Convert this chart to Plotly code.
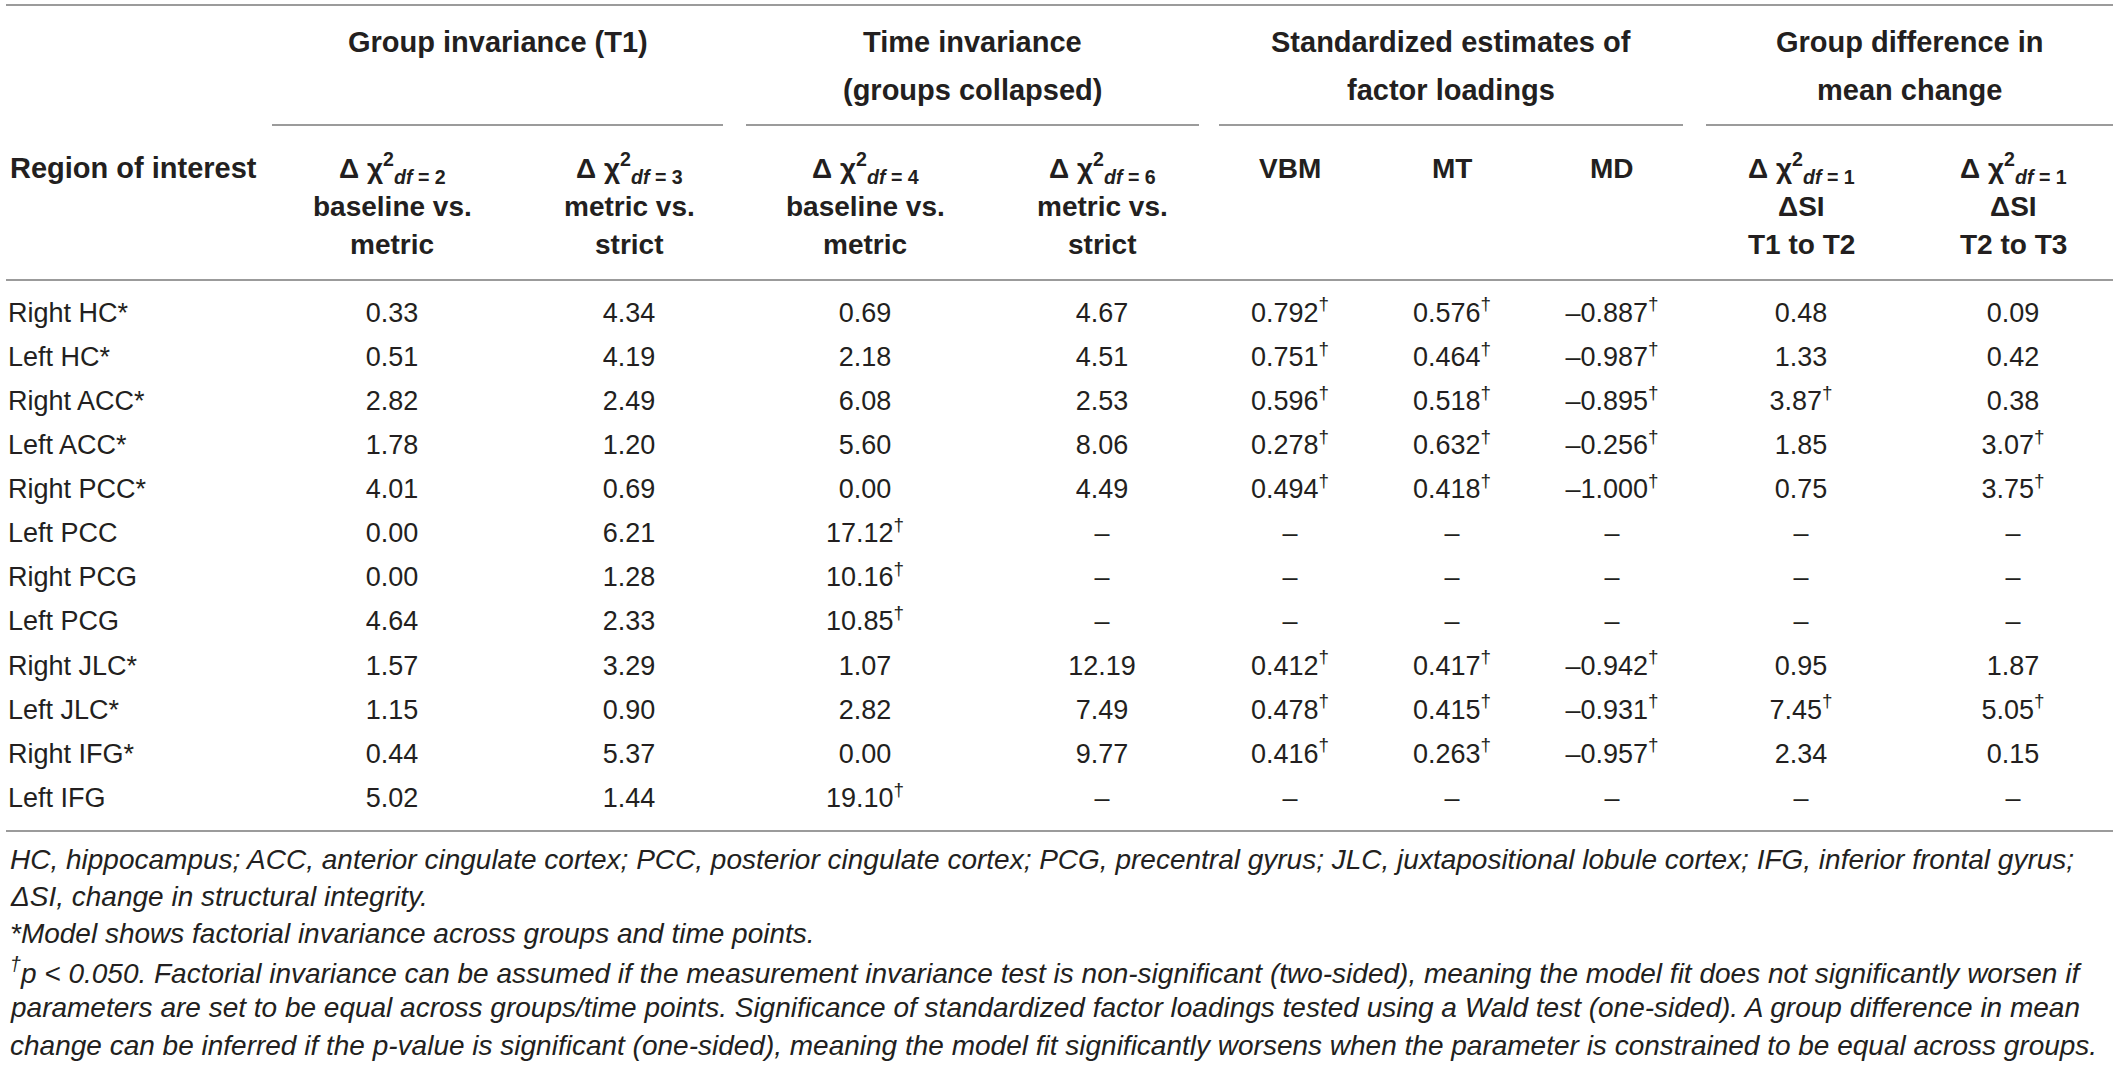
import plotly.graph_objects as go

# ---- table data ----
regions = ["Right HC*", "Left HC*", "Right ACC*", "Left ACC*", "Right PCC*", "Left PCC",
           "Right PCG", "Left PCG", "Right JLC*", "Left JLC*", "Right IFG*", "Left IFG"]

group_base_vs_metric = ["0.33", "0.51", "2.82", "1.78", "4.01", "0.00", "0.00", "4.64", "1.57", "1.15", "0.44", "5.02"]
group_metric_vs_strict = ["4.34", "4.19", "2.49", "1.20", "0.69", "6.21", "1.28", "2.33", "3.29", "0.90", "5.37", "1.44"]
time_base_vs_metric = ["0.69", "2.18", "6.08", "5.60", "0.00", "17.12†", "10.16†", "10.85†", "1.07", "2.82", "0.00", "19.10†"]
time_metric_vs_strict = ["4.67", "4.51", "2.53", "8.06", "4.49", "–", "–", "–", "12.19", "7.49", "9.77", "–"]
loading_vbm = ["0.792†", "0.751†", "0.596†", "0.278†", "0.494†", "–", "–", "–", "0.412†", "0.478†", "0.416†", "–"]
loading_mt = ["0.576†", "0.464†", "0.518†", "0.632†", "0.418†", "–", "–", "–", "0.417†", "0.415†", "0.263†", "–"]
loading_md = ["–0.887†", "–0.987†", "–0.895†", "–0.256†", "–1.000†", "–", "–", "–", "–0.942†", "–0.931†", "–0.957†", "–"]
dsi_t1_t2 = ["0.48", "1.33", "3.87†", "1.85", "0.75", "–", "–", "–", "0.95", "7.45†", "2.34", "–"]
dsi_t2_t3 = ["0.09", "0.42", "0.38", "3.07†", "3.75†", "–", "–", "–", "1.87", "5.05†", "0.15", "–"]

group_headers = [["Group invariance (T1)"], ["Time invariance", "(groups collapsed)"],
                 ["Standardized estimates of", "factor loadings"], ["Group difference in", "mean change"]]

chi = "Δ χ<sup>2</sup><sub><i>df</i> = %d</sub>"
col_headers = [
    [chi % 2, "baseline vs.", "metric"],
    [chi % 3, "metric vs.", "strict"],
    [chi % 4, "baseline vs.", "metric"],
    [chi % 6, "metric vs.", "strict"],
    ["VBM"], ["MT"], ["MD"],
    [chi % 1, "ΔSI", "T1 to T2"],
    [chi % 1, "ΔSI", "T2 to T3"],
]

footnotes = [
    "HC, hippocampus; ACC, anterior cingulate cortex; PCC, posterior cingulate cortex; PCG, precentral gyrus; "
    "JLC, juxtapositional lobule cortex; IFG, inferior frontal gyrus;",
    "ΔSI, change in structural integrity.",
    "*Model shows factorial invariance across groups and time points.",
    "<sup>†</sup>p &lt; 0.050. Factorial invariance can be assumed if the measurement invariance test is non-significant "
    "(two-sided), meaning the model fit does not significantly worsen if",
    "parameters are set to be equal across groups/time points. Significance of standardized factor loadings tested "
    "using a Wald test (one-sided). A group difference in mean",
    "change can be inferred if the p-value is significant (one-sided), meaning the model fit significantly worsens "
    "when the parameter is constrained to be equal across groups.",
]

columns = [group_base_vs_metric, group_metric_vs_strict, time_base_vs_metric, time_metric_vs_strict,
           loading_vbm, loading_mt, loading_md, dsi_t1_t2, dsi_t2_t3]

# ---- layout (screen-pixel coordinates, page margin removed) ----
W, H = 2122, 1067
FONT = "Liberation Sans, Arial, sans-serif"
TXT = "#231f20"
RULE = "#9b9b9b"
col_x = [392, 629, 865, 1102, 1290, 1452, 1612, 1801, 2013]
group_span = [(272, 723), (746, 1199), (1219, 1683), (1706, 2113)]
header_y = [168, 206, 244]
row0, row_step = 315, 44.1
row_y = [row0 + i * row_step for i in range(len(regions))]

fig = go.Figure()

fig.add_trace(go.Scatter(
    x=[8] * len(regions), y=row_y, text=regions, mode="text",
    textposition="middle right", textfont=dict(family=FONT, size=27, color=TXT),
    hoverinfo="skip", showlegend=False))

for cx, vals in zip(col_x, columns):
    fig.add_trace(go.Scatter(
        x=[cx] * len(vals), y=row_y,
        text=[v.replace("†", "<sup>†</sup>") for v in vals], mode="text",
        textposition="middle center", textfont=dict(family=FONT, size=27, color=TXT),
        hoverinfo="skip", showlegend=False))

annotations = []
# group headers
for (x0, x1), lines in zip(group_span, group_headers):
    for j, line in enumerate(lines):
        annotations.append(dict(x=(x0 + x1) / 2, y=42 + j * 48, text="<b>%s</b>" % line,
                                font=dict(family=FONT, size=29, color=TXT)))
# column headers
annotations.append(dict(x=8, y=header_y[0], text="<b>Region of interest</b>", xanchor="left",
                        font=dict(family=FONT, size=29, color=TXT)))
for cx, lines in zip(col_x, col_headers):
    for j, line in enumerate(lines):
        annotations.append(dict(x=cx, y=header_y[j], text="<b>%s</b>" % line,
                                font=dict(family=FONT, size=28, color=TXT)))
# footnotes
for j, line in enumerate(footnotes):
    annotations.append(dict(x=8, y=859 + j * 37.2, text="<i>%s</i>" % line, xanchor="left",
                            font=dict(family=FONT, size=28, color=TXT)))

for a in annotations:
    a.update(xref="x", yref="y", showarrow=False, yanchor="middle")

shapes = []
for yy in (5, 280, 831):
    shapes.append(dict(type="line", x0=6, x1=2113, y0=yy, y1=yy, line=dict(color=RULE, width=2)))
for x0, x1 in group_span:
    shapes.append(dict(type="line", x0=x0, x1=x1, y0=125, y1=125, line=dict(color=RULE, width=2)))
for s in shapes:
    s.update(xref="x", yref="y", layer="below")

fig.update_layout(
    width=W, height=H,
    margin=dict(l=0, r=0, t=0, b=0),
    paper_bgcolor="white", plot_bgcolor="white",
    xaxis=dict(range=[0, W], visible=False, fixedrange=True),
    yaxis=dict(range=[H, 0], visible=False, fixedrange=True),
    annotations=annotations, shapes=shapes,
)

# drop the browser's default body margin so the figure fills the window exactly
fig.write_html("out.html", config={"displayModeBar": False},
               post_script="document.body.style.margin='0';document.body.style.overflow='hidden';")
